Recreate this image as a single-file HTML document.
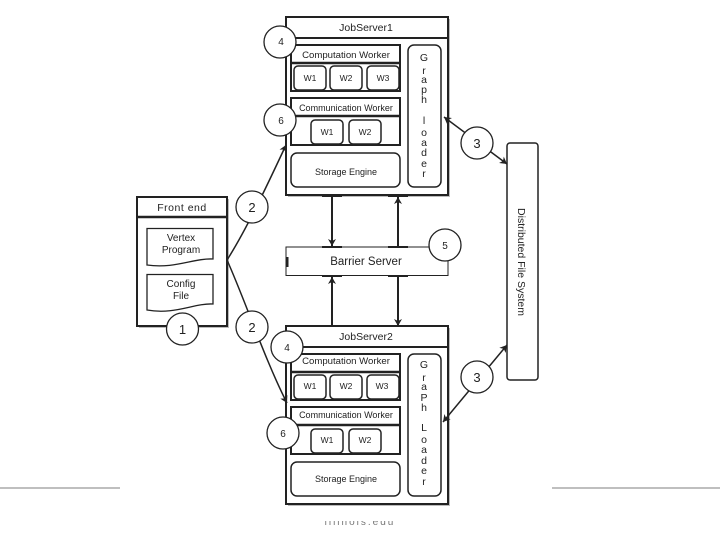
<!DOCTYPE html>
<html><head><meta charset="utf-8"><style>
html,body{margin:0;padding:0;background:#fff;width:720px;height:540px;overflow:hidden}
svg{display:block}
text{font-family:"Liberation Sans","DejaVu Sans",sans-serif;fill:#222;text-anchor:middle}
.b{fill:#fff;stroke:#222;stroke-width:2}
.t{fill:#fff;stroke:#222;stroke-width:1.5}
.c{fill:#fff;stroke:#222;stroke-width:1.3}
.l{stroke:#222;stroke-width:2;fill:none}
.a{stroke:#222;stroke-width:1.5;fill:none}
</style></head><body>
<svg width="720" height="540" viewBox="0 0 720 540" xmlns="http://www.w3.org/2000/svg">
<defs>
<marker id="ah" markerWidth="8" markerHeight="8" refX="7" refY="4" orient="auto-start-reverse" markerUnits="userSpaceOnUse"><path d="M0 0L7 4L0 8L2 4Z" fill="#222"/></marker>
<g id="srv">
<rect x="288" y="2" width="162" height="178" fill="#bbb"/>
<rect class="b" x="286" y="0" width="162" height="178"/>
<line x1="286" y1="21" x2="448" y2="21" stroke="#222" stroke-width="2"/>
<rect class="b" x="291" y="28" width="109" height="46"/>
<line x1="291" y1="46" x2="400" y2="46" stroke="#222" stroke-width="2.5"/>
<rect class="t" x="294" y="49" width="32" height="24" rx="4"/>
<rect class="t" x="330" y="49" width="32" height="24" rx="4"/>
<rect class="t" x="367" y="49" width="32" height="24" rx="4"/>
<rect class="b" x="291" y="81" width="109" height="47"/>
<line x1="291" y1="99" x2="400" y2="99" stroke="#222" stroke-width="2.5"/>
<rect class="t" x="311" y="103" width="32" height="24" rx="4"/>
<rect class="t" x="349" y="103" width="32" height="24" rx="4"/>
<rect class="t" x="291" y="136" width="109" height="34" rx="6"/>
<rect class="t" x="408" y="28" width="33" height="142" rx="6"/>
</g>
</defs>

<line x1="0" y1="488" x2="120" y2="488" stroke="#aaa" stroke-width="1.5"/>
<line x1="552" y1="488" x2="720" y2="488" stroke="#aaa" stroke-width="1.5"/>
<text x="360" y="525" font-size="10" letter-spacing="2" style="fill:#777">illinois.edu</text>
<rect x="300" y="505" width="120" height="16" fill="#fff"/>

<use href="#srv" y="17"/>
<use href="#srv" y="326"/>

<rect x="139" y="199" width="90" height="129" fill="#bbb"/>
<rect class="b" x="137" y="197" width="90" height="129"/>
<line x1="137" y1="217" x2="227" y2="217" stroke="#222" stroke-width="2.5"/>
<path class="c" d="M147 228.500H213V259C194 258 175 269 147 265Z"/>
<path class="c" d="M147 274.500H213V304C194 303 175 315 147 310Z"/>

<rect x="286" y="247" width="162" height="28.500" fill="#fff" stroke="#222" stroke-width="1"/>
<rect x="286" y="257" width="2.500" height="10" fill="#222"/>
<rect x="322" y="246" width="20" height="2" fill="#222"/><rect x="388" y="246" width="20" height="2" fill="#222"/>
<rect x="322" y="275" width="20" height="2" fill="#222"/><rect x="388" y="275" width="20" height="2" fill="#222"/>
<rect x="322" y="195" width="20" height="2" fill="#222"/><rect x="388" y="194" width="20" height="3" fill="#222"/>
<rect x="322" y="325" width="20" height="2" fill="#222"/><rect x="388" y="325" width="20" height="2" fill="#222"/>

<line class="l" x1="332" y1="196" x2="332" y2="246" marker-end="url(#ah)"/>
<line class="l" x1="398" y1="247" x2="398" y2="197" marker-end="url(#ah)"/>
<line class="l" x1="332" y1="326" x2="332" y2="277" marker-end="url(#ah)"/>
<line class="l" x1="398" y1="277" x2="398" y2="326" marker-end="url(#ah)"/>

<path class="a" d="M227 260C245 232 265 190 286 145" marker-end="url(#ah)"/>
<path class="a" d="M227 260C245 300 265 360 287 403" marker-end="url(#ah)"/>
<line class="a" x1="444" y1="117" x2="507" y2="164" marker-start="url(#ah)" marker-end="url(#ah)"/>
<line class="a" x1="443" y1="422" x2="507" y2="345" marker-start="url(#ah)" marker-end="url(#ah)"/>

<rect x="507" y="143" width="31" height="237" rx="3" fill="#fff" stroke="#222" stroke-width="1.5"/>

<g fill="#fff" stroke="#222" stroke-width="1.3">
<circle cx="280" cy="42" r="16"/><circle cx="280" cy="120" r="16"/>
<circle cx="287" cy="347" r="16"/><circle cx="283" cy="433" r="16"/>
<circle cx="182.500" cy="329" r="16"/><circle cx="252" cy="207" r="16"/><circle cx="252" cy="327" r="16"/>
<circle cx="445" cy="245" r="16"/><circle cx="477" cy="143" r="16"/><circle cx="477" cy="377" r="16"/>
</g>

<g font-size="10">
<text x="281" y="45">4</text><text x="281" y="124">6</text><text x="287" y="351">4</text><text x="283" y="437">6</text>
<text x="445" y="249">5</text>
</g>
<g font-size="13">
<text x="182.500" y="334">1</text><text x="252" y="212">2</text><text x="252" y="332">2</text>
<text x="477" y="148">3</text><text x="477" y="382">3</text>
</g>

<g font-size="10.500">
<text x="366" y="31">JobServer1</text>
<text x="346" y="58" font-size="9.600">Computation Worker</text>
<text x="346" y="111" font-size="9">Communication Worker</text>
<text x="346" y="175" font-size="9">Storage Engine</text>
<text x="366" y="340">JobServer2</text>
<text x="346" y="364" font-size="9.600">Computation Worker</text>
<text x="346" y="418" font-size="9">Communication Worker</text>
<text x="346" y="482" font-size="9">Storage Engine</text>
<text x="182" y="211" letter-spacing="0.500">Front end</text>
<text x="181" y="241" font-size="10">Vertex</text>
<text x="181" y="253" font-size="10">Program</text>
<text x="181" y="287" font-size="10">Config</text>
<text x="181" y="299" font-size="10">File</text>
<text x="366" y="265" font-size="11.500">Barrier Server</text>
<text transform="translate(518,262) rotate(90)" font-size="10.500">Distributed File System</text>
</g>
<g font-size="8.500">
<text x="310" y="81">W1</text><text x="346" y="81">W2</text><text x="383" y="81">W3</text>
<text x="327" y="135">W1</text><text x="365" y="135">W2</text>
<text x="310" y="389">W1</text><text x="346" y="389">W2</text><text x="382" y="389">W3</text>
<text x="327" y="443">W1</text><text x="365" y="443">W2</text>
</g>
<g font-size="10.500">
<text x="424" y="61">G</text><text x="424" y="74">r</text><text x="424" y="83">a</text><text x="424" y="93">p</text><text x="424" y="103">h</text>
<text x="424" y="124">l</text><text x="424" y="136">o</text><text x="424" y="146">a</text><text x="424" y="156">d</text><text x="424" y="167">e</text><text x="424" y="177">r</text>
<text x="424" y="368">G</text><text x="424" y="381">r</text><text x="424" y="390">a</text><text x="424" y="401">P</text><text x="424" y="411">h</text>
<text x="424" y="431">L</text><text x="424" y="443">o</text><text x="424" y="453">a</text><text x="424" y="464">d</text><text x="424" y="474">e</text><text x="424" y="485">r</text>
</g>
</svg>
</body></html>
